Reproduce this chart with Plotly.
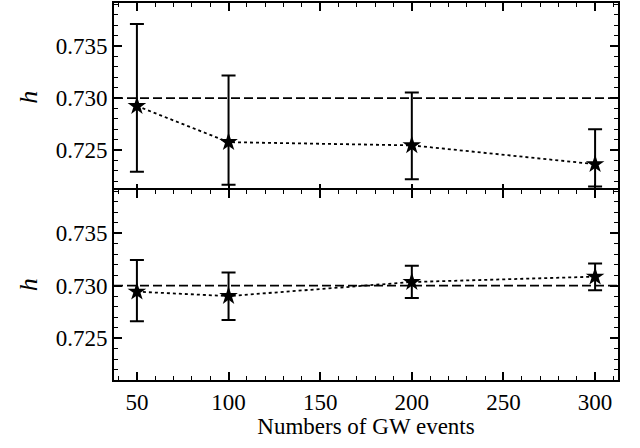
import plotly.graph_objects as go
from plotly.subplots import make_subplots

n_events = [50, 100, 200, 300]

h_top = [0.72924, 0.72576, 0.72545, 0.72364]
h_top_up = [0.73714, 0.73218, 0.73053, 0.72699]
h_top_lo = [0.72291, 0.72165, 0.72218, 0.72149]

h_bot = [0.72943, 0.72901, 0.73035, 0.73086]
h_bot_up = [0.73246, 0.73125, 0.73189, 0.73211]
h_bot_lo = [0.72662, 0.72674, 0.72882, 0.72956]

h_true = 0.730

y_ticks = [0.725, 0.730, 0.735]
y_ticklabels = ["0.725", "0.730", "0.735"]
x_ticks = [50, 100, 150, 200, 250, 300]

FONT = "Liberation Serif, DejaVu Serif, serif"

fig = make_subplots(rows=2, cols=1, shared_xaxes=True, vertical_spacing=0)

for row, (v, up, lo) in enumerate([(h_top, h_top_up, h_top_lo), (h_bot, h_bot_up, h_bot_lo)], start=1):
    fig.add_trace(go.Scatter(
        x=n_events, y=v, mode="lines+markers",
        line=dict(color="black", width=1.8, dash="dot"),
        marker=dict(symbol="star", size=14, color="black"),
        error_y=dict(type="data", symmetric=False,
                     array=[u - y for u, y in zip(up, v)],
                     arrayminus=[y - l for y, l in zip(v, lo)],
                     color="black", thickness=2, width=7),
        showlegend=False), row=row, col=1)
    fig.add_hline(y=h_true, line=dict(color="black", width=1.8, dash="9px,4px"), row=row, col=1)

axis_common = dict(showline=True, linecolor="black", linewidth=1.8, mirror="allticks",
                   ticks="inside", ticklen=8, tickwidth=1.5, tickcolor="black",
                   showgrid=False, zeroline=False,
                   tickfont=dict(family=FONT, size=23, color="black"))

for row in (1, 2):
    fig.update_yaxes(range=[0.72101, 0.73915], tickvals=y_ticks, ticktext=y_ticklabels,
                     minor=dict(ticks="inside", dtick=0.001, tick0=0.725, ticklen=4, tickwidth=1.2, tickcolor="black"),
                     title=dict(text="<i>h</i>", font=dict(family=FONT, size=26, color="black"), standoff=11),
                     row=row, col=1, **axis_common)
    fig.update_xaxes(range=[37.5, 312.5], tickvals=x_ticks,
                     minor=dict(ticks="inside", dtick=10, tick0=0, ticklen=4, tickwidth=1.2, tickcolor="black"),
                     row=row, col=1, **axis_common)

fig.update_xaxes(showticklabels=False, row=1, col=1)
fig.update_xaxes(title=dict(text="Numbers of GW events", font=dict(family=FONT, size=23, color="black"), standoff=4),
                 row=2, col=1)

plot_h = 448 - 1 - 68
fig.update_layout(yaxis=dict(domain=[0.5, 1.0]),
                  yaxis2=dict(domain=[0.0, 0.5 + 1.8 / plot_h]))

fig.update_layout(width=640, height=448, margin=dict(l=114, r=22, t=1, b=68),
                  plot_bgcolor="white", paper_bgcolor="white",
                  font=dict(family=FONT, color="black"))

fig.write_html("out.html", config={"displayModeBar": False},
               post_script="document.body.style.margin='0';")
